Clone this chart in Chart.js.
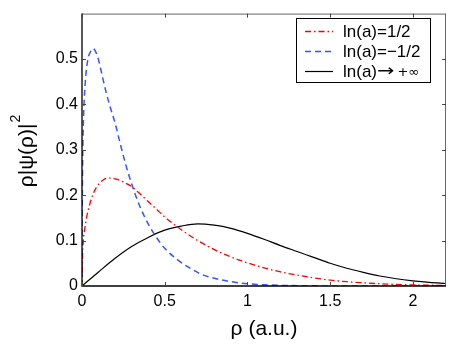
<!DOCTYPE html>
<html>
<head>
<meta charset="utf-8">
<script src="https://cdn.jsdelivr.net/npm/chart.js@4.4.0/dist/chart.umd.min.js"></script>
<style>
  html, body { margin: 0; padding: 0; background: #fff; }
  #wrap { width: 450px; height: 347px; position: relative; }
</style>
</head>
<body>
<div id="wrap"><canvas id="c" width="450" height="347"></canvas></div>
<script>
// ---- data ----
const seriesLabels = ['ln(a)=1/2', 'ln(a)=\u22121/2', 'ln(a)\u2192 +\u221E'];

const rhoRed = [0, 0.003, 0.008, 0.016, 0.03, 0.046, 0.07, 0.1, 0.13, 0.16, 0.2, 0.25, 0.3, 0.35, 0.4, 0.45, 0.5, 0.6, 0.7, 0.8, 0.9, 1.0, 1.1, 1.2, 1.3, 1.4, 1.5, 1.6, 1.7, 1.8, 1.9, 2.0, 2.1, 2.2];
const valRed = [0, 0.06, 0.10, 0.124, 0.155, 0.179, 0.205, 0.224, 0.234, 0.238, 0.236, 0.229, 0.219, 0.203, 0.186, 0.169, 0.152, 0.124, 0.100, 0.080, 0.064, 0.051, 0.040, 0.031, 0.024, 0.018, 0.013, 0.0095, 0.007, 0.005, 0.0035, 0.0025, 0.0017, 0.0011];

const rhoBlue = [0, 0.001, 0.002, 0.005, 0.01, 0.02, 0.036, 0.05, 0.065, 0.08, 0.1, 0.118, 0.14, 0.169, 0.2, 0.23, 0.26, 0.3, 0.35, 0.4, 0.45, 0.5, 0.58, 0.65, 0.72, 0.8, 0.9, 1.0, 1.1, 1.2, 1.4, 1.6, 1.8, 2.0, 2.2];
const valBlue = [0, 0.13, 0.2, 0.30, 0.38, 0.45, 0.50, 0.515, 0.523, 0.518, 0.498, 0.47, 0.435, 0.396, 0.359, 0.315, 0.273, 0.225, 0.175, 0.137, 0.107, 0.083, 0.057, 0.040, 0.026, 0.017, 0.0095, 0.005, 0.0027, 0.0014, 0.0004, 0.0001, 0, 0, 0];

const rhoBlack = [0, 0.1, 0.2, 0.3, 0.4, 0.5, 0.6, 0.7, 0.8, 0.9, 1.0, 1.1, 1.2, 1.3, 1.4, 1.5, 1.6, 1.7, 1.8, 1.9, 2.0, 2.1, 2.2];
const valBlack = [0, 0.031, 0.061, 0.087, 0.107, 0.123, 0.132, 0.137, 0.134, 0.127, 0.116, 0.103, 0.089, 0.076, 0.063, 0.050, 0.039, 0.030, 0.022, 0.016, 0.0115, 0.008, 0.0055];

const xTickValues = [0, 0.5, 1, 1.5, 2];
const yTickValues = [0, 0.1, 0.2, 0.3, 0.4, 0.5];
const xTitle = '\u03C1 (a.u.)';
const yTitleMain = '\u03C1|\u03C8(\u03C1)|';
const yTitleSup = '2';

const pts = (xs, ys) => xs.map((x, i) => ({ x: x, y: ys[i] }));

const FONT = '"Liberation Sans", Arial, Helvetica, sans-serif';
const SYM = '"DejaVu Sans", sans-serif';

const styles = [
  { color: '#ff0000', dash: [6, 3, 1.5, 3], width: 1.3 },
  { color: '#3355ff', dash: [6, 4], width: 1.5 },
  { color: '#000000', dash: [], width: 1.2 }
];

const decorPlugin = {
  id: 'decor',
  afterDraw(chart) {
    const ctx = chart.ctx;
    const a = chart.chartArea;
    const xs = chart.scales.x, ys = chart.scales.y;
    ctx.save();
    // frame
    ctx.lineWidth = 1;
    ctx.strokeStyle = '#666';
    ctx.beginPath();
    ctx.moveTo(a.left, a.top + 0.5); ctx.lineTo(a.right, a.top + 0.5);
    ctx.moveTo(a.right - 0.5, a.top); ctx.lineTo(a.right - 0.5, a.bottom);
    ctx.stroke();
    ctx.strokeStyle = '#000';
    ctx.lineWidth = 1.3;
    ctx.beginPath();
    ctx.moveTo(a.left, a.top); ctx.lineTo(a.left, a.bottom);
    ctx.lineTo(a.right, a.bottom);
    ctx.stroke();
    // inward ticks
    const L = 4;
    ctx.lineWidth = 1;
    ctx.strokeStyle = '#444';
    ctx.beginPath();
    xTickValues.forEach(v => {
      const px = Math.round(xs.getPixelForValue(v)) + 0.5;
      ctx.moveTo(px, a.bottom); ctx.lineTo(px, a.bottom - L);
      ctx.moveTo(px, a.top); ctx.lineTo(px, a.top + L);
    });
    yTickValues.forEach(v => {
      const py = Math.round(ys.getPixelForValue(v)) + 0.5;
      ctx.moveTo(a.left, py); ctx.lineTo(a.left + L, py);
      ctx.moveTo(a.right, py); ctx.lineTo(a.right - L, py);
    });
    ctx.stroke();
    // axis titles
    ctx.fillStyle = '#000';
    ctx.font = '21px ' + FONT;
    ctx.textAlign = 'center';
    ctx.textBaseline = 'middle';
    ctx.fillText(xTitle, (a.left + a.right) / 2, 329);
    // y title with superscript
    ctx.save();
    ctx.translate(33, 151);
    ctx.rotate(-Math.PI / 2);
    ctx.textBaseline = 'alphabetic';
    ctx.textAlign = 'left';
    ctx.font = '21px ' + FONT;
    const wMain = ctx.measureText(yTitleMain).width;
    ctx.font = '14px ' + FONT;
    const wSup = ctx.measureText(yTitleSup).width;
    const start = -(wMain + wSup + 1) / 2;
    ctx.font = '21px ' + FONT;
    ctx.fillText(yTitleMain, start, 0);
    ctx.font = '14px ' + FONT;
    ctx.fillText(yTitleSup, start + wMain + 1, -13);
    ctx.restore();
    // legend
    const bx = 296.5, by = 18.5, bw = 134, bh = 64;
    ctx.fillStyle = '#fff';
    ctx.fillRect(bx, by, bw, bh);
    ctx.strokeStyle = '#000';
    ctx.lineWidth = 1;
    ctx.strokeRect(bx, by, bw, bh);
    const rows = [31, 51, 71];
    ctx.textAlign = 'left';
    ctx.textBaseline = 'middle';
    seriesLabels.forEach((lab, i) => {
      const s = styles[i];
      ctx.save();
      ctx.strokeStyle = s.color;
      ctx.lineWidth = s.width;
      ctx.setLineDash(s.dash);
      ctx.beginPath();
      ctx.moveTo(305, rows[i] + 0.5); ctx.lineTo(333, rows[i] + 0.5);
      ctx.stroke();
      ctx.restore();
      ctx.fillStyle = '#000';
      if (i < 2) {
        ctx.font = '17px ' + FONT;
        ctx.fillText(lab, 343, rows[i] + 1);
      } else {
        // "ln(a)" in text font, arrow and +inf in symbol font
        const arrowIdx = lab.indexOf('\u2192');
        const head = lab.slice(0, arrowIdx);
        const arrow = '\u2192';
        const tail = lab.slice(arrowIdx + 1).trim();
        ctx.font = '17px ' + FONT;
        ctx.fillText(head, 343, rows[i] + 1);
        let x = 343 + ctx.measureText(head).width;
        ctx.save();
        ctx.font = '16px ' + SYM;
        ctx.translate(x, rows[i] + 1);
        ctx.scale(1.3, 1);
        ctx.fillText(arrow, 0, 0);
        const wa = ctx.measureText(arrow).width * 1.3;
        ctx.restore();
        x += wa + 3;
        ctx.font = '13px ' + SYM;
        ctx.fillText(tail, x, rows[i] + 2);
      }
    });
    ctx.restore();
  }
};

const mkSet = (label, xs, ys, s) => ({
  label: label,
  data: pts(xs, ys),
  borderColor: s.color,
  borderWidth: s.width,
  borderDash: s.dash,
  pointRadius: 0,
  showLine: true,
  fill: false,
  cubicInterpolationMode: 'monotone'
});

new Chart(document.getElementById('c'), {
  type: 'scatter',
  data: {
    datasets: [
      mkSet(seriesLabels[0], rhoRed, valRed, styles[0]),
      mkSet(seriesLabels[1], rhoBlue, valBlue, styles[1]),
      mkSet(seriesLabels[2], rhoBlack, valBlack, styles[2])
    ]
  },
  options: {
    responsive: false,
    animation: false,
    events: [],
    layout: { padding: { top: 13, right: 4, left: 0, bottom: 0 } },
    plugins: { legend: { display: false }, tooltip: { enabled: false } },
    scales: {
      x: {
        type: 'linear', min: 0, max: 2.2,
        grid: { display: false, drawTicks: false },
        border: { display: false },
        ticks: {
          stepSize: 0.5, padding: 6, color: '#000',
          font: { family: FONT, size: 16 },
          maxRotation: 0, autoSkip: false,
          callback: v => String(Math.round(v * 10) / 10)
        },
        afterBuildTicks: sc => { sc.ticks = xTickValues.map(v => ({ value: v })); },
        afterFit: sc => { sc.height = 61; }
      },
      y: {
        type: 'linear', min: 0, max: 0.6,
        grid: { display: false, drawTicks: false },
        border: { display: false },
        ticks: {
          stepSize: 0.1, padding: 4, color: '#000',
          font: { family: FONT, size: 16 },
          callback: v => String(Math.round(v * 10) / 10)
        },
        afterBuildTicks: sc => { sc.ticks = yTickValues.map(v => ({ value: v })); },
        afterFit: sc => { sc.width = 82; }
      }
    }
  },
  plugins: [decorPlugin]
});
</script>
</body>
</html>
